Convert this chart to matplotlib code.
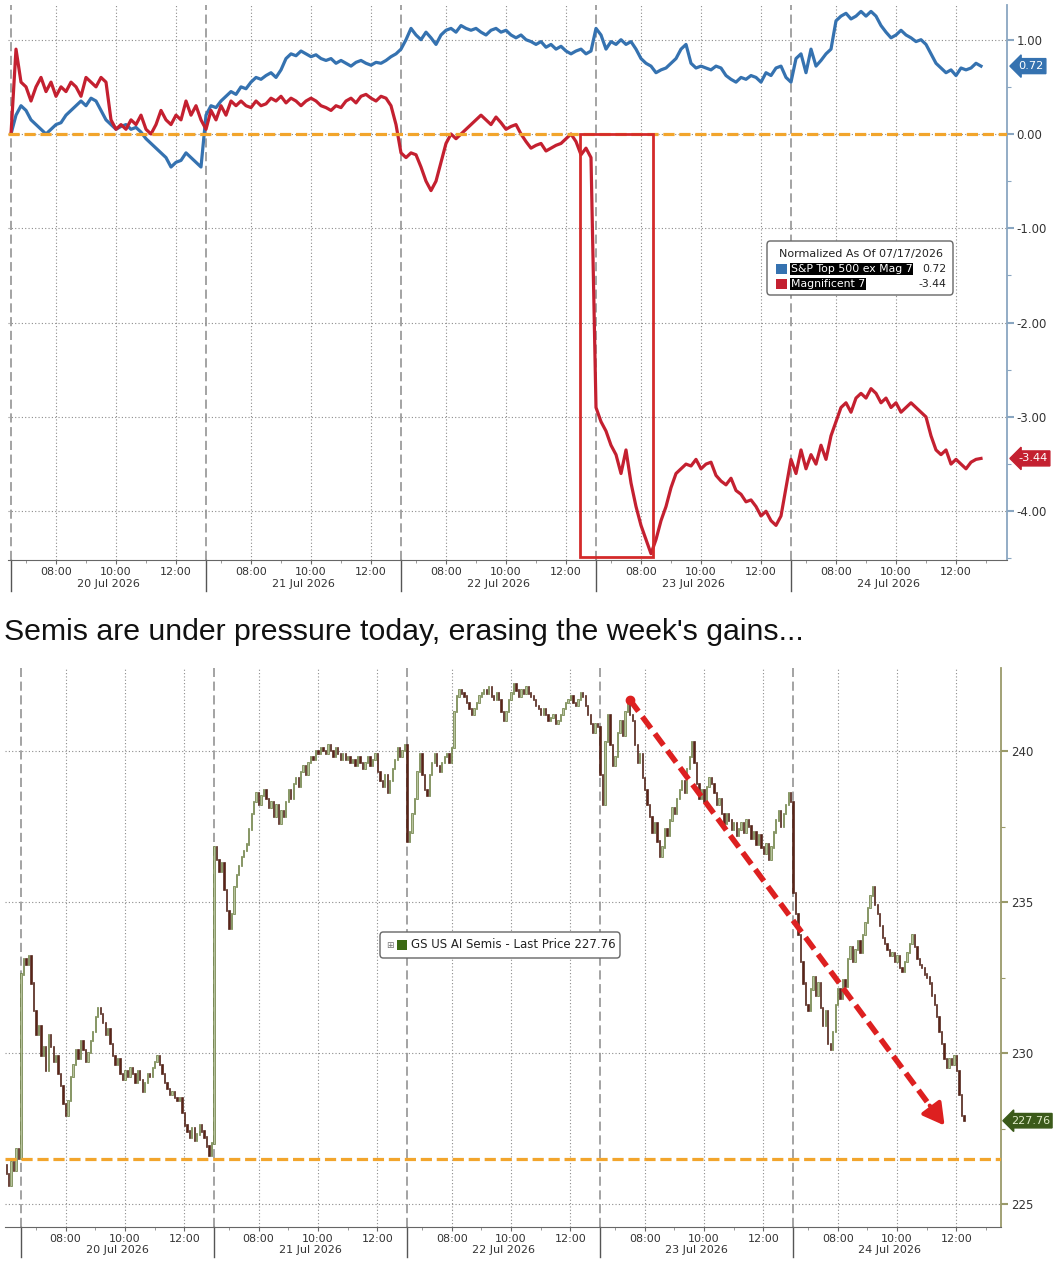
import numpy as np
import matplotlib
matplotlib.use('Agg')
import matplotlib.pyplot as plt
from matplotlib.patches import Rectangle, FancyBboxPatch
from matplotlib.transforms import blended_transform_factory

W, H = 1054, 1267
DAY = 6.5  # session length in hours (06:30 - 13:00)
days = ['20 Jul 2026', '21 Jul 2026', '22 Jul 2026', '23 Jul 2026', '24 Jul 2026']

# top chart: normalized % change since 07/17 close, 10 min samples from 06:30
blue = [
    [0.0, 0.2, 0.3, 0.25, 0.15, 0.1, 0.05, 0.0, 0.05, 0.1, 0.12, 0.2, 0.25, 0.3, 0.35, 0.3, 0.38, 0.35, 0.25,
     0.15, 0.1, 0.05, 0.08, 0.1, 0.05, 0.07, 0.02, -0.05, -0.1, -0.15, -0.2, -0.25, -0.35, -0.3, -0.28, -0.2,
     -0.25, -0.3, -0.35],
    [0.2, 0.3, 0.28, 0.35, 0.4, 0.45, 0.42, 0.5, 0.48, 0.55, 0.6, 0.58, 0.62, 0.65, 0.6, 0.68, 0.8, 0.85, 0.83,
     0.88, 0.85, 0.82, 0.84, 0.8, 0.78, 0.8, 0.75, 0.78, 0.75, 0.72, 0.76, 0.78, 0.75, 0.73, 0.76, 0.75, 0.78,
     0.82, 0.85],
    [0.9, 1.0, 1.12, 1.05, 1.0, 1.08, 1.02, 0.95, 1.05, 1.1, 1.12, 1.08, 1.15, 1.12, 1.1, 1.12, 1.08, 1.05, 1.1,
     1.12, 1.08, 1.1, 1.05, 1.02, 1.05, 1.0, 0.98, 0.95, 0.98, 0.92, 0.95, 0.9, 0.93, 0.88, 0.85, 0.88, 0.9,
     0.85, 0.88],
    [1.12, 1.05, 0.9, 0.98, 0.95, 1.0, 0.95, 0.98, 0.9, 0.8, 0.75, 0.72, 0.65, 0.68, 0.7, 0.75, 0.8, 0.9, 0.95,
     0.75, 0.7, 0.72, 0.7, 0.68, 0.72, 0.7, 0.62, 0.58, 0.55, 0.6, 0.58, 0.62, 0.6, 0.55, 0.65, 0.62, 0.7,
     0.72, 0.6],
    [0.55, 0.8, 0.85, 0.65, 0.9, 0.72, 0.78, 0.85, 0.9, 1.2, 1.25, 1.28, 1.22, 1.25, 1.3, 1.25, 1.3, 1.25, 1.15,
     1.08, 1.02, 1.05, 1.1, 1.05, 1.02, 0.98, 1.0, 0.95, 0.85, 0.75, 0.7, 0.65, 0.68, 0.62, 0.7, 0.68, 0.7,
     0.75, 0.72],
]
red = [
    [0.0, 0.9, 0.55, 0.5, 0.35, 0.5, 0.6, 0.45, 0.55, 0.4, 0.5, 0.45, 0.55, 0.5, 0.4, 0.6, 0.55, 0.5, 0.6,
     0.55, 0.15, 0.05, 0.1, 0.05, 0.15, 0.1, 0.2, 0.05, 0.0, 0.1, 0.25, 0.15, 0.1, 0.2, 0.15, 0.35, 0.2, 0.3,
     0.15],
    [0.05, 0.25, 0.15, 0.3, 0.2, 0.35, 0.3, 0.35, 0.3, 0.28, 0.35, 0.3, 0.32, 0.38, 0.35, 0.4, 0.33, 0.38, 0.35,
     0.3, 0.35, 0.38, 0.35, 0.3, 0.28, 0.25, 0.3, 0.28, 0.35, 0.38, 0.33, 0.4, 0.42, 0.38, 0.35, 0.4, 0.38,
     0.3, 0.1],
    [-0.2, -0.25, -0.2, -0.22, -0.35, -0.5, -0.6, -0.5, -0.3, -0.1, 0.0, -0.05, 0.0, 0.05, 0.1, 0.15, 0.2, 0.15,
     0.1, 0.18, 0.12, 0.05, 0.08, 0.1, 0.0, -0.08, -0.15, -0.12, -0.1, -0.18, -0.15, -0.12, -0.1, -0.05, 0.0,
     -0.08, -0.22, -0.15, -0.25],
    [-2.9, -3.05, -3.15, -3.3, -3.4, -3.6, -3.35, -3.7, -3.95, -4.15, -4.3, -4.45, -4.3, -4.1, -3.95, -3.75,
     -3.6, -3.55, -3.5, -3.52, -3.45, -3.55, -3.5, -3.48, -3.62, -3.68, -3.72, -3.65, -3.78, -3.82, -3.9,
     -3.88, -3.95, -4.05, -4.0, -4.1, -4.15, -4.05, -3.75],
    [-3.45, -3.6, -3.35, -3.55, -3.4, -3.5, -3.3, -3.45, -3.2, -3.05, -2.9, -2.85, -2.95, -2.8, -2.75, -2.8,
     -2.7, -2.75, -2.85, -2.8, -2.9, -2.85, -2.95, -2.9, -2.85, -2.9, -2.95, -3.0, -3.2, -3.35, -3.4, -3.35,
     -3.5, -3.45, -3.5, -3.55, -3.48, -3.45, -3.44],
]
blue_last, red_last = 0.72, -3.44

# bottom chart: GS US AI Semis 5 min closes (17 Jul tail, then each session from 06:30)
pre_close = [226.0, 225.6, 226.4, 226.1, 226.8, 226.49]
semis = [
    [232.6, 233.1, 232.9, 233.2, 232.3, 231.4, 230.6, 230.9, 229.9, 230.2, 229.4, 230.6, 230.2, 229.7, 229.9,
     229.3, 228.9, 228.3, 227.9, 228.4, 229.2, 229.6, 230.1, 229.8, 230.4, 230.1, 229.7, 230.0, 230.4, 230.7,
     231.2, 231.5, 231.3, 231.0, 230.6, 230.8, 230.3, 229.9, 229.6, 229.8, 229.3, 229.1, 229.4, 229.2, 229.5,
     229.3, 229.0, 229.4, 229.1, 228.7, 229.0, 229.3, 229.2, 229.5, 229.7, 229.9, 229.6, 229.3, 229.0, 228.8,
     228.6, 228.7, 228.5, 228.4, 228.5, 228.0, 227.6, 227.4, 227.2, 227.5, 227.1, 227.3, 227.6, 227.4, 227.2,
     226.9, 226.6, 227.0],
    [236.8, 236.4, 236.0, 236.3, 235.4, 234.7, 234.1, 234.6, 235.5, 235.9, 236.2, 236.5, 236.7, 236.9, 237.4,
     237.9, 238.3, 238.6, 238.2, 238.5, 238.7, 238.4, 238.1, 238.3, 237.8, 238.2, 237.6, 238.0, 237.8, 238.3,
     238.7, 238.4, 238.9, 239.1, 238.8, 239.3, 239.5, 239.2, 239.6, 239.8, 239.7, 240.0, 239.9, 240.1, 240.0,
     239.9, 240.2, 240.0, 239.8, 240.1, 239.9, 239.7, 239.9, 239.7, 239.8, 239.6, 239.7, 239.5, 239.8, 239.6,
     239.4, 239.6, 239.8, 239.5, 239.7, 239.9, 239.3, 239.0, 238.8, 239.2, 238.6, 239.0, 239.4, 239.7, 240.1,
     239.8, 240.0, 240.2],
    [237.0, 237.3, 237.9, 238.4, 239.3, 239.9, 239.2, 238.7, 238.5, 239.2, 239.6, 239.9, 239.5, 239.3, 239.6,
     239.8, 239.9, 239.6, 240.1, 241.3, 241.8, 242.0, 241.9, 241.8, 241.6, 241.4, 241.2, 241.4, 241.6, 241.8,
     241.9, 242.0, 241.9, 242.1, 241.8, 241.7, 241.9, 241.7, 241.3, 241.0, 241.3, 241.7, 241.9, 242.2, 242.0,
     241.8, 242.0, 241.9, 242.1, 241.9, 241.8, 241.7, 241.5, 241.4, 241.2, 241.4, 241.2, 241.0, 241.1, 241.2,
     240.9, 241.0, 241.2, 241.4, 241.6, 241.7, 241.8, 241.6, 241.5, 241.7, 241.9, 241.8, 241.5, 241.2, 240.9,
     240.6, 240.9, 240.8],
    [239.2, 238.2, 240.3, 241.2, 240.2, 239.5, 239.8, 240.6, 241.0, 240.5, 241.3, 241.6, 241.2, 241.0, 240.2,
     239.6, 239.9, 239.1, 238.7, 238.2, 237.8, 237.3, 237.6, 237.0, 236.5, 236.8, 237.4, 237.2, 237.7, 238.1,
     237.9, 238.4, 238.7, 239.0, 238.6, 239.4, 239.8, 240.3, 239.6, 238.9, 238.4, 238.7, 238.3, 238.8, 239.1,
     238.9, 238.6, 238.2, 238.4, 237.9, 237.6, 237.9, 237.7, 237.4, 237.6, 237.2, 237.4, 237.6, 237.3, 237.7,
     237.5, 237.1, 237.3, 236.9, 237.2, 236.8, 236.6, 236.9, 236.4, 236.8, 237.3, 237.7, 238.0, 237.5, 237.9,
     238.2, 238.6, 238.3],
    [235.3, 234.6, 233.9, 233.0, 232.3, 231.6, 231.4, 232.1, 232.5, 231.9, 232.3, 231.5, 230.9, 231.4, 230.3,
     230.1, 230.7, 231.6, 232.1, 231.8, 232.4, 232.2, 233.1, 233.5, 233.0, 233.4, 233.7, 233.3, 233.9, 234.3,
     234.8, 235.2, 235.5, 234.9, 234.6, 234.2, 233.8, 233.6, 233.4, 233.2, 233.3, 233.0, 233.2, 232.8, 232.7,
     233.0, 233.3, 233.6, 233.9, 233.5, 233.1, 232.9, 232.8, 232.6, 232.5, 232.3, 231.9, 231.6, 231.2, 230.7,
     230.3, 229.8, 229.5, 229.8, 229.6, 229.9, 229.4, 228.6, 227.9, 227.76],
]
last_price = 227.76
friday_close = 226.49
arrow_start = (20.5, 241.7)
arrow_end = (31.1, 227.6)
box_t = (18.97, 21.4)
box_low = -4.48

BLUE = '#3572b0'
RED = '#c42030'
ORANGE = '#f2a52c'
GRID = '#8c8c8c'
TXT = '#333333'


def fx(x):
    return x / W


def fy(y):
    return 1 - y / H


def style_time_axis(ax, spine_col, lab_off):
    ax.set_facecolor('white')
    for s in ['top', 'left']:
        ax.spines[s].set_visible(False)
    ax.spines['bottom'].set_color('#666666')
    ax.spines['right'].set_color(spine_col)
    ax.spines['right'].set_linewidth(1.3)
    ax.yaxis.tick_right()
    maj, lab, mnr = [], [], []
    for d in range(5):
        for h, l in [(1.5, '08:00'), (3.5, '10:00'), (5.5, '12:00')]:
            maj.append(d * DAY + h)
            lab.append(l)
        mnr += [d * DAY + h for h in (0.5, 2.5, 4.5, 6.5)]
    ax.set_xticks(maj)
    ax.set_xticklabels(lab)
    ax.set_xticks(mnr, minor=True)
    ax.tick_params(axis='x', which='major', length=3, color='#666666', labelsize=8, labelcolor=TXT, pad=2)
    ax.tick_params(axis='x', which='minor', length=2, color='#888888')
    ax.tick_params(axis='y', which='major', length=5, width=1.5, color=spine_col, labelsize=8.5,
                   labelcolor=TXT, pad=2)
    ax.tick_params(axis='y', which='minor', length=3, width=0.8, color=spine_col)
    ax.grid(True, which='major', color=GRID, ls=(0, (1, 2)), lw=0.8)
    trans = blended_transform_factory(ax.transData, ax.transAxes)
    for d in range(5):
        ax.axvline(d * DAY, color='#8a8a8a', ls=(0, (6, 3)), lw=1.1, zorder=1)
        ax.plot([d * DAY, d * DAY], [0, -lab_off * 1.3], color='#555555', lw=1, transform=trans, clip_on=False)
        ax.text(d * DAY + 3.25, -lab_off, days[d], transform=trans, ha='center', va='center', fontsize=8,
                color=TXT)


fig = plt.figure(figsize=(W / 100, H / 100), dpi=100)

# ---------------- top chart ----------------
ax1 = fig.add_axes([fx(8), fy(560), fx(1007) - fx(8), fy(5) - fy(560)])
style_time_axis(ax1, '#8aa6c1', 24 / 555)
bt = np.concatenate([d * DAY + np.arange(len(blue[d])) / 6 for d in range(5)])
ax1.plot(bt, np.concatenate(blue), color=BLUE, lw=2.3, zorder=3)
rt = np.concatenate([d * DAY + np.arange(len(red[d])) / 6 for d in range(5)])
ax1.plot(rt, np.concatenate(red), color=RED, lw=2.3, zorder=3)
ax1.axhline(0, color=ORANGE, lw=2.3, ls=(0, (3.5, 1.5)), zorder=4)
ax1.add_patch(Rectangle((box_t[0], box_low), box_t[1] - box_t[0], -box_low, fill=False, ec='#d42a2a',
                        lw=2, zorder=5))
ax1.set_xlim(-0.1, 33.2)
ax1.set_ylim(-4.517, 1.368)
ax1.set_yticks([1, 0, -1, -2, -3, -4])
ax1.set_yticklabels(['1.00', '0.00', '-1.00', '-2.00', '-3.00', '-4.00'])
ax1.set_yticks(np.arange(-4.5, 1.5, 0.5), minor=True)
for v, c in [(blue_last, BLUE), (red_last, RED)]:
    ax1.annotate(f'{v:.2f}', xy=(1.0, v), xycoords=('axes fraction', 'data'), xytext=(8, 0),
                 textcoords='offset points', ha='left', va='center', fontsize=8.2, color='white',
                 bbox=dict(boxstyle='larrow,pad=0.22', fc=c, ec=c), annotation_clip=False)

# legend of top chart
fig.add_artist(FancyBboxPatch((fx(767), fy(295)), fx(953) - fx(767), fy(241) - fy(295),
                              boxstyle='round,pad=0,rounding_size=0.003', transform=fig.transFigure,
                              fc='white', ec='#666666', lw=1, zorder=10))
fig.text(fx(779), fy(254), 'Normalized As Of 07/17/2026', fontsize=8.0, color='#222222', va='center',
         zorder=11)
for y, c, name, val in [(269, BLUE, 'S&P Top 500 ex Mag 7', '0.72'), (284, RED, 'Magnificent 7', '-3.44')]:
    fig.add_artist(Rectangle((fx(776), fy(y + 5)), fx(787) - fx(776), fy(y - 5) - fy(y + 5), fc=c, ec='none',
                             transform=fig.transFigure, zorder=11))
    fig.text(fx(791), fy(y), name, fontsize=7.8, color='white', va='center', zorder=11,
             bbox=dict(boxstyle='square,pad=0.08', fc='black', ec='none'))
    fig.text(fx(946), fy(y), val, fontsize=7.8, color='#222222', va='center', ha='right', zorder=11)

# headline
fig.text(fx(4), fy(632), "Semis are under pressure today, erasing the week's gains...",
         fontsize=21.8, family='Liberation Sans', color='#111111', va='center', ha='left')

# ---------------- bottom chart ----------------
ax2 = fig.add_axes([fx(5), fy(1227), fx(1001) - fx(5), fy(668) - fy(1227)])
style_time_axis(ax2, '#9a9a6a', 23 / 559)

times = list(-0.5 + np.arange(len(pre_close)) / 12)
closes = list(pre_close)
for d in range(5):
    times += list(d * DAY + np.arange(len(semis[d])) / 12)
    closes += semis[d]
times = np.array(times)
closes = np.array(closes)
opens = np.concatenate([[closes[0] + 0.3], closes[:-1]])
up = closes >= opens
lo = np.minimum(opens, closes)
hi = np.maximum(opens, closes)
ax2.bar(times[up], (hi - lo)[up] + 0.04, bottom=lo[up], width=0.045, color='#b7c39c', edgecolor='#5a6e2c',
        lw=0.45, zorder=3)
ax2.bar(times[~up], (hi - lo)[~up] + 0.04, bottom=lo[~up], width=0.045, color='#5b2418', edgecolor='#4a1d12',
        lw=0.45, zorder=3)
ax2.axhline(friday_close, color=ORANGE, lw=2.3, ls=(0, (3.5, 1.5)), zorder=4)

# red trend arrow
ax2.plot([arrow_start[0], arrow_end[0] - 0.3], [arrow_start[1], arrow_end[1] + 0.4], color='#dd2020', lw=4,
         ls=(0, (2.6, 1.2)), zorder=6)
ax2.plot(arrow_start[0], arrow_start[1], 'o', color='#dd2020', ms=6, zorder=6)
ax2.annotate('', xy=arrow_end, xytext=(arrow_end[0] - 0.5, arrow_end[1] + 0.66),
             arrowprops=dict(arrowstyle='-|>,head_length=0.8,head_width=0.45', color='#dd2020', lw=3,
                             mutation_scale=16, shrinkA=0, shrinkB=0), zorder=6)

ax2.set_xlim(-0.54, 33.0)
ax2.set_ylim(224.24, 242.75)
ax2.set_yticks([225, 230, 235, 240])
ax2.set_yticks(np.arange(225, 242.5, 2.5), minor=True)
ax2.annotate(f'{last_price:.2f}', xy=(1.0, last_price), xycoords=('axes fraction', 'data'), xytext=(7, 0),
             textcoords='offset points', ha='left', va='center', fontsize=8.0, color='#e0ecc8',
             bbox=dict(boxstyle='larrow,pad=0.2', fc='#3b5a1a', ec='#3b5a1a'), annotation_clip=False)

# legend of bottom chart
fig.add_artist(FancyBboxPatch((fx(380), fy(958)), fx(620) - fx(380), fy(932) - fy(958),
                              boxstyle='round,pad=0,rounding_size=0.003', transform=fig.transFigure,
                              fc='white', ec='#666666', lw=1, zorder=10))
fig.text(fx(386), fy(945), '\u229e', fontsize=6.5, color='#777777', va='center', zorder=11)
fig.add_artist(Rectangle((fx(397), fy(950)), fx(407) - fx(397), fy(940) - fy(950), fc='#3c6a14', ec='none',
                         transform=fig.transFigure, zorder=11))
fig.text(fx(411), fy(945), 'GS US AI Semis - Last Price 227.76', fontsize=8.5, color='#222222', va='center',
         zorder=11)

fig.savefig('out.png', dpi=100, facecolor='white')
